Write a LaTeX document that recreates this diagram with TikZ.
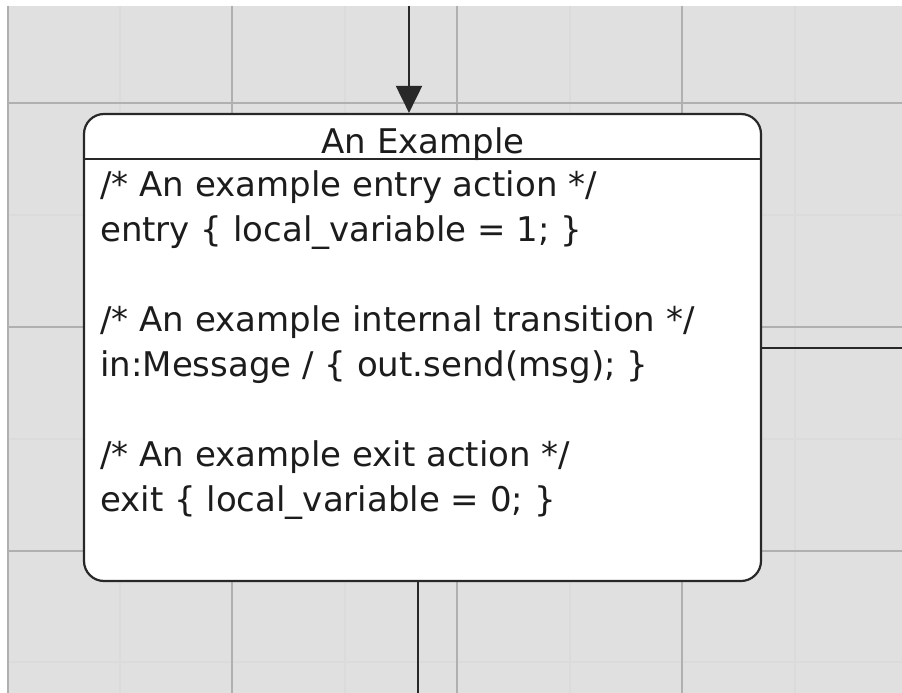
\documentclass[tikz,border=0pt]{standalone}
\usepackage{fontspec}
\setmainfont{DejaVu Sans}
\usetikzlibrary{arrows.meta, positioning, calc}
\definecolor{fondGris}{RGB}{224, 224, 224}
\definecolor{grilleMaj}{RGB}{176, 176, 176}
\definecolor{grilleMin}{RGB}{219, 219, 219}
\definecolor{traitFonce}{RGB}{40, 40, 40}
\definecolor{texteNoir}{RGB}{28, 28, 28}

\begin{document}
\begin{tikzpicture}[x=1pt, y=-1pt,
  statebox/.style={rectangle, rounded corners=20pt, draw=traitFonce,
    fill=white, line width=2.2pt, minimum width=677pt,
    minimum height=467pt, inner sep=0pt},
  titlelbl/.style={font=\fontsize{34}{40}\selectfont, inner sep=0pt,
    text=texteNoir},
  bodytxt/.style={align=left, inner sep=0pt, text=texteNoir,
    font=\fontsize{34}{45}\selectfont},
  conn/.style={draw=traitFonce, line width=2pt},
  arr/.style={conn, -{Triangle[length=27pt, width=26pt]}},
]
\useasboundingbox (0,0) rectangle (902,693);
% grille de fond
\fill[fondGris] (7,6) rectangle (902,693);
\foreach \gx in {120, 345, 570, 795}
  \draw[grilleMin, line width=1.5pt] (\gx,6) -- (\gx,693);
\foreach \gy in {215, 439, 662}
  \draw[grilleMin, line width=1.5pt] (7,\gy) -- (902,\gy);
\foreach \gx in {8, 232, 457, 682}
  \draw[grilleMaj, line width=1.5pt] (\gx,6) -- (\gx,693);
\foreach \gy in {103, 327, 551}
  \draw[grilleMaj, line width=1.5pt] (7,\gy) -- (902,\gy);

\node[statebox] (state) at (422.5, 347.5) {};
\node[titlelbl, anchor=base] (title) at (423, 153) {An Example};
\draw[conn] (state.west |- 0,159) -- (state.east |- 0,159);
\node[bodytxt, anchor=north west] (body) at (100, 170)
  {/* An example entry action */\\
   entry \{ local\_variable = 1; \}\\
   ~\\
   /* An example internal transition */\\
   in:Message / \{ out.send(msg); \}\\
   ~\\
   /* An example exit action */\\
   exit \{ local\_variable = 0; \}};

\coordinate (entree) at (409, 6);
\coordinate (sortieD) at (902, 348);
\coordinate (sortieB) at (418, 693);
\draw[arr] (entree) -- (entree |- state.north);
\draw[conn] (state.east |- sortieD) -- (sortieD);
\draw[conn] (state.south -| sortieB) -- (sortieB);
\end{tikzpicture}
\end{document}
